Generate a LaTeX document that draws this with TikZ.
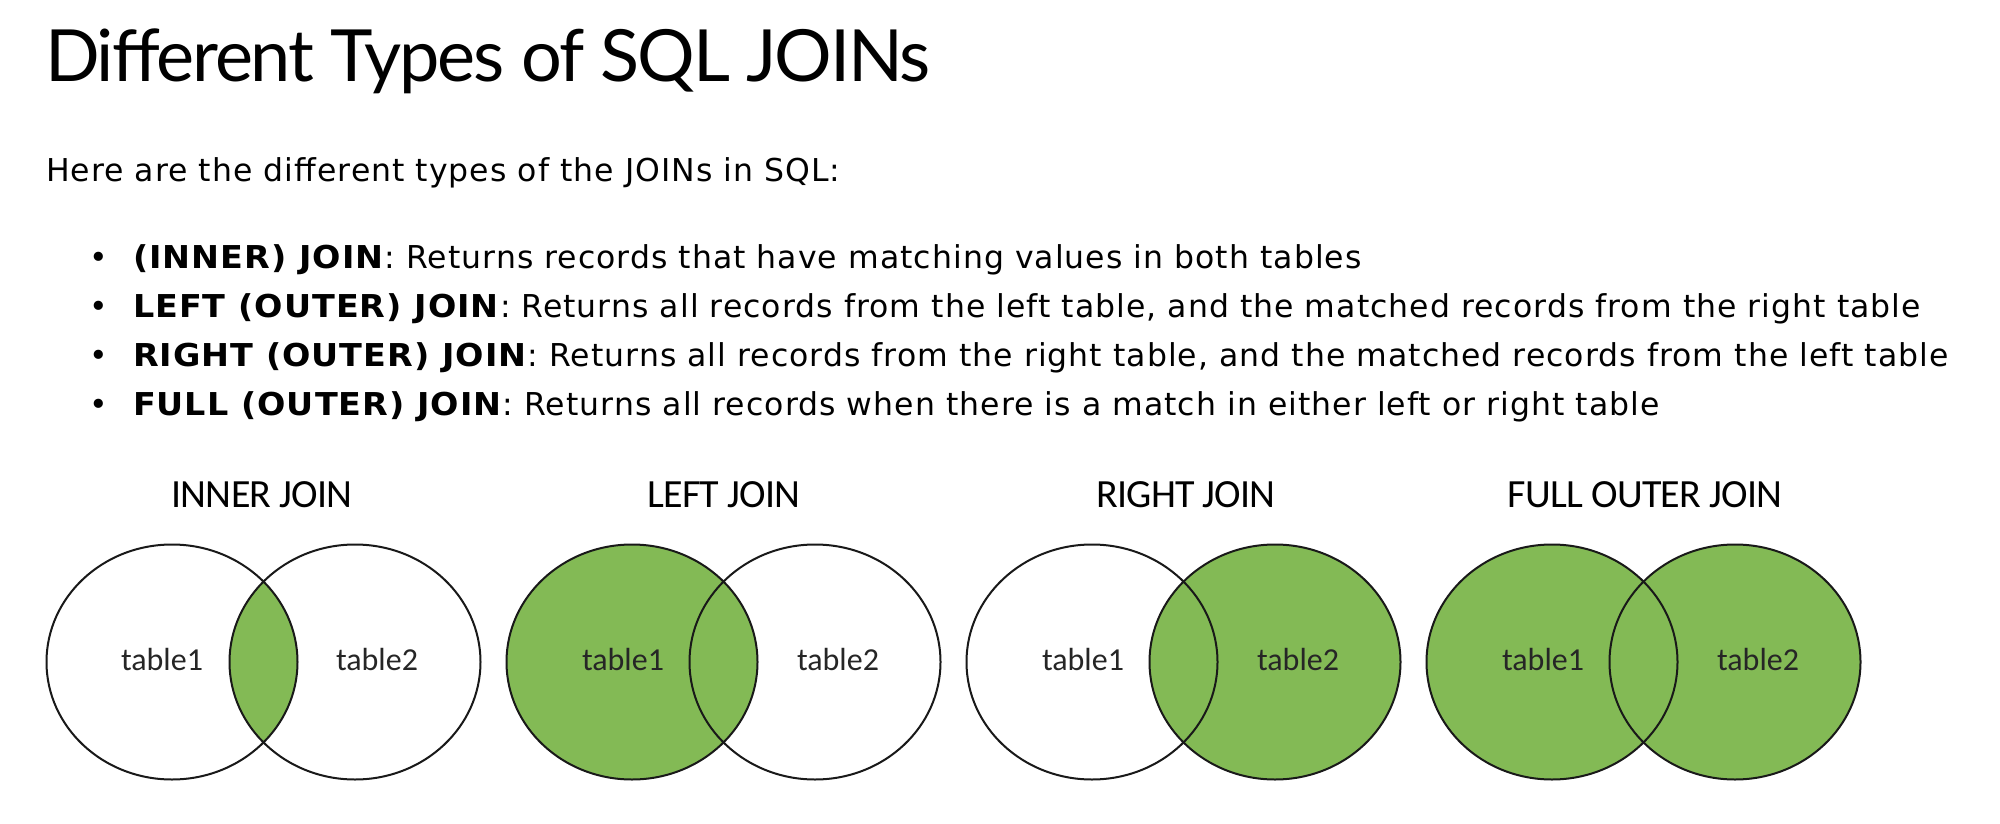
\documentclass[tikz,border=0pt]{standalone}
\usepackage{fontspec}
\setmainfont[LetterSpace=3.3,BoldFeatures={FakeStretch=1.06}]{DejaVu Sans}
\newfontfamily\titlefont[LetterSpace=-3.0]{Lato}
\newfontfamily\vennfont[LetterSpace=-2]{Carlito}
\newfontfamily\tablefont{Carlito}
\definecolor{joingreen}{RGB}{131,186,85}
\begin{document}
\begin{tikzpicture}[x=1pt,y=-1pt,
  every node/.style={inner sep=0pt, outer sep=0pt},
  titletext/.style={anchor=base west, font=\titlefont\fontsize{72}{80}\selectfont},
  bodytext/.style={anchor=base west, font=\fontsize{31.5}{36}\selectfont},
  bullettext/.style={anchor=base, font=\fontsize{31.5}{36}\selectfont},
  vennhead/.style={anchor=base, font=\vennfont\fontsize{40}{44}\selectfont},
  venntable/.style={anchor=base, font=\tablefont\fontsize{32}{36}\selectfont, text=black!85},
  vennline/.style={draw=black!90, line width=2pt},
]
\useasboundingbox[fill=white] (0,0) rectangle (2000,824);

% heading and intro
\node[titletext] (title) at (45,82) {Different Types of SQL JOINs};
\node[bodytext] (intro) at (46,181) {Here are the different types of the JOINs in SQL:};

% bullet list
\node[bullettext] (b1) at (99,268) {•};
\node[bodytext] (l1) at (133,268) {\textbf{(INNER) JOIN}: Returns records that have matching values in both tables};
\node[bullettext] (b2) at (99,317) {•};
\node[bodytext] (l2) at (133,317) {\textbf{LEFT (OUTER) JOIN}: Returns all records from the left table, and the matched records from the right table};
\node[bullettext] (b3) at (99,366) {•};
\node[bodytext] (l3) at (133,366) {\textbf{RIGHT (OUTER) JOIN}: Returns all records from the right table, and the matched records from the left table};
\node[bullettext] (b4) at (99,415) {•};
\node[bodytext] (l4) at (133,415) {\textbf{FULL (OUTER) JOIN}: Returns all records when there is a match in either left or right table};

% ---------- INNER JOIN ----------
\begin{scope}
  \clip (172,662) ellipse [x radius=125.5pt, y radius=117.5pt];
  \fill[joingreen] (355,662) ellipse [x radius=125.5pt, y radius=117.5pt];
\end{scope}
\draw[vennline] (172,662) ellipse [x radius=125.5pt, y radius=117.5pt];
\draw[vennline] (355,662) ellipse [x radius=125.5pt, y radius=117.5pt];
\node[vennhead] (h1) at (262,507) {INNER JOIN};
\node[venntable] (t11) at (162,670) {table1};
\node[venntable] (t12) at (377,670) {table2};

% ---------- LEFT JOIN ----------
\fill[joingreen] (632,662) ellipse [x radius=125.5pt, y radius=117.5pt];
\draw[vennline] (632,662) ellipse [x radius=125.5pt, y radius=117.5pt];
\draw[vennline] (815,662) ellipse [x radius=125.5pt, y radius=117.5pt];
\node[vennhead] (h2) at (724,507) {LEFT JOIN};
\node[venntable] (t21) at (623,670) {table1};
\node[venntable] (t22) at (838,670) {table2};

% ---------- RIGHT JOIN ----------
\fill[joingreen] (1275,662) ellipse [x radius=125.5pt, y radius=117.5pt];
\draw[vennline] (1092,662) ellipse [x radius=125.5pt, y radius=117.5pt];
\draw[vennline] (1275,662) ellipse [x radius=125.5pt, y radius=117.5pt];
\node[vennhead] (h3) at (1186,507) {RIGHT JOIN};
\node[venntable] (t31) at (1083,670) {table1};
\node[venntable] (t32) at (1298,670) {table2};

% ---------- FULL OUTER JOIN ----------
\fill[joingreen] (1552,662) ellipse [x radius=125.5pt, y radius=117.5pt];
\fill[joingreen] (1735,662) ellipse [x radius=125.5pt, y radius=117.5pt];
\draw[vennline] (1552,662) ellipse [x radius=125.5pt, y radius=117.5pt];
\draw[vennline] (1735,662) ellipse [x radius=125.5pt, y radius=117.5pt];
\node[vennhead] (h4) at (1645,507) {FULL OUTER JOIN};
\node[venntable] (t41) at (1543,670) {table1};
\node[venntable] (t42) at (1758,670) {table2};
\end{tikzpicture}
\end{document}
